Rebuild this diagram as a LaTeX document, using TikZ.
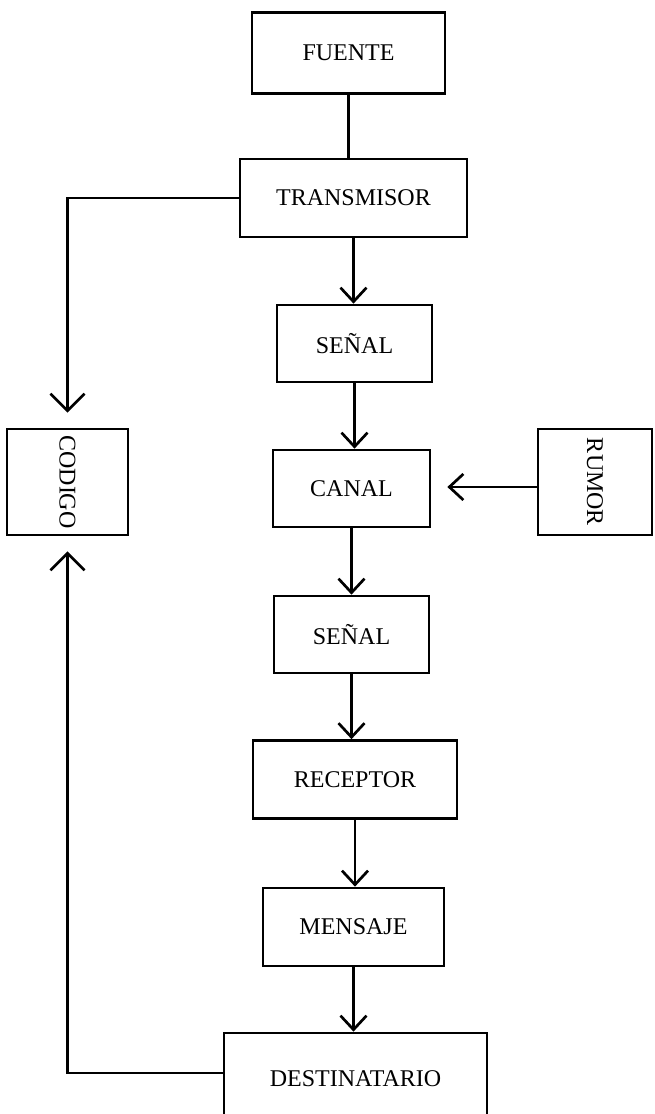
\documentclass[tikz,border=0pt]{standalone}
\usepackage{fontspec}
\setmainfont{Liberation Serif}
\usetikzlibrary{arrows.meta}
\tikzstyle{block} = [rectangle, inner sep=0pt, minimum width=155pt, minimum height=77pt, text centered, draw=black, line width=2.7pt, font=\fontsize{24}{28}\selectfont]
\tikzstyle{arrow} = [line width=2.7pt, -{Straight Barb[length=14pt,width=26pt]}]
\tikzstyle{bigarrow} = [line width=2.7pt, -{Straight Barb[length=17pt,width=34pt]}]

\begin{document}
\begin{tikzpicture}[x=1pt, y=-1pt]
   \clip (0,0) rectangle (654,1114);
   \node (fuente) [block, minimum width=193pt, minimum height=81pt] at (348.5,53) {FUENTE};
   \node (trans) [block, minimum width=227pt, minimum height=78pt] at (353.5,198) {TRANSMISOR};
   \node (senal1) [block] at (354.5,343.5) {SEÑAL};
   \node (canal) [block, minimum width=157pt] at (351.5,488.5) {CANAL};
   \node (senal2) [block] at (351.5,634.5) {SEÑAL};
   \node (recep) [block, minimum width=204pt, minimum height=78pt] at (355,779.5) {RECEPTOR};
   \node (mensaje) [block, minimum width=181pt, minimum height=78pt] at (353.5,927) {MENSAJE};
   \node (dest) [block, minimum width=263pt, minimum height=92pt] at (355.5,1079) {DESTINATARIO};
   \node (codigo) [block, minimum width=121pt, minimum height=106pt] at (67.5,482) {\rotatebox{-90}{CODIGO}};
   \node (rumor) [block, minimum width=114pt, minimum height=106pt] at (595,482) {\rotatebox{-90}{RUMOR}};

   \draw [line width=2.7pt] (fuente.south) -- (fuente.south |- trans.north);
   \draw [arrow] (trans.south) -- (trans.south |- senal1.north);
   \draw [arrow] (senal1.south) -- (senal1.south |- canal.north);
   \draw [arrow] (canal.south) -- (canal.south |- senal2.north);
   \draw [arrow] (senal2.south) -- (senal2.south |- recep.north);
   \draw [arrow] (recep.south) -- (recep.south |- mensaje.north);
   \draw [arrow] (mensaje.south) -- (mensaje.south |- dest.north);
   % codigo y rumor
   \draw [bigarrow, shorten >=15pt] (trans.west) -| (codigo.north);
   \draw [bigarrow, shorten >=15pt] ([yshift=6pt]dest.west) -| (codigo.south);
   \draw [arrow, shorten >=16pt] ([yshift=-5pt]rumor.west) -- ([yshift=-5pt]rumor.west -| canal.east);
\end{tikzpicture}
\end{document}
